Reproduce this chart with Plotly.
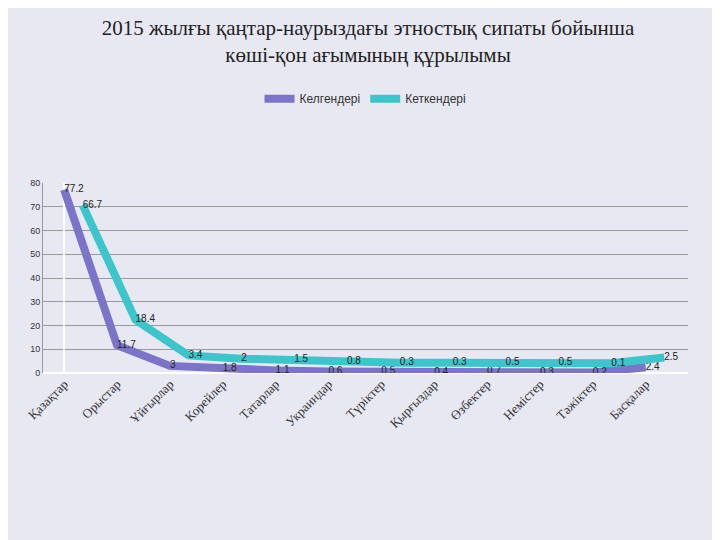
import plotly.graph_objects as go

categories = ["Қазақтар","Орыстар","Ұйғырлар","Корейлер","Татарлар","Украиндар","Түріктер","Қырғыздар","Өзбектер","Немістер","Тәжіктер","Басқалар"]
kelgen = [77.2, 11.7, 3, 1.8, 1.1, 0.6, 0.5, 0.4, 0.7, 0.3, 0.2, 2.4]
ketken = [66.7, 18.4, 3.4, 2, 1.5, 0.8, 0.3, 0.3, 0.5, 0.5, 0.1, 2.5]

x = list(range(len(categories)))
fig = go.Figure()
fig.add_trace(go.Scatter(x=x, y=kelgen, name="Келгендері", mode="lines+text",
    line=dict(color="#7b74c9", width=8), text=[str(v) for v in kelgen],
    textposition="middle right", textfont=dict(size=10, color="#222")))
fig.add_trace(go.Scatter(x=[i+0.35 for i in x], y=[v+4 for v in ketken], name="Кеткендері", mode="lines+text",
    line=dict(color="#3cc6cc", width=8), text=[str(v) for v in ketken],
    textposition="middle right", textfont=dict(size=10, color="#222")))
fig.update_layout(
    width=720, height=540, paper_bgcolor="#e8e8f3", plot_bgcolor="rgba(0,0,0,0)",
    title=dict(text="2015 жылғы қаңтар-наурыздағы этностық сипаты бойынша<br>көші-қон ағымының құрылымы",
               x=0.5, y=0.95, font=dict(family="Liberation Serif", size=21, color="#222")),
    legend=dict(orientation="h", x=0.5, xanchor="center", y=1.52, font=dict(size=12, color="#333")),
    margin=dict(l=35, r=40, t=175, b=175),
    font=dict(family="Liberation Sans"),
    xaxis=dict(tickvals=x, ticktext=categories, tickangle=-45, range=[-0.4, 11.8],
               showgrid=False, tickfont=dict(family="Liberation Serif", size=13, color="#333")),
    yaxis=dict(range=[0, 80], dtick=10, gridcolor="#999", showline=True, linecolor="#999",
               tickfont=dict(size=9, color="#333")),
)
fig.write_html("out.html")
